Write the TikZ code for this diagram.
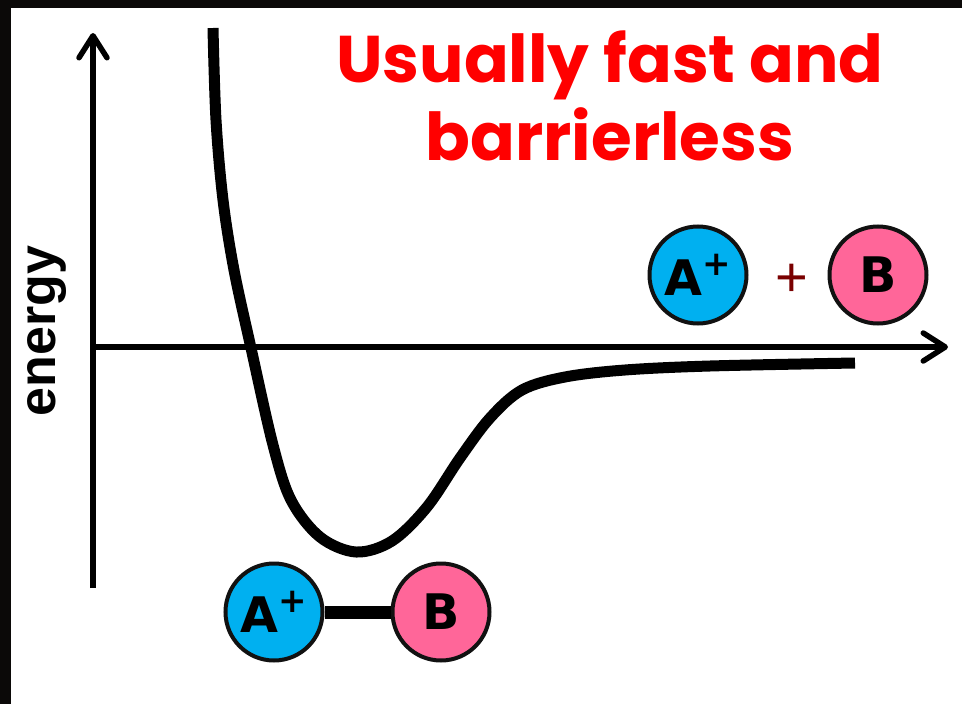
\documentclass[tikz,border=0pt]{standalone}
\usepackage{fontspec}
\setmainfont{Liberation Sans}
\newfontfamily\titlefont{Poppins}
\newfontfamily\atomfont{DejaVu Sans}
\usetikzlibrary{arrows.meta}
\definecolor{atomblue}{HTML}{00B0F0}
\definecolor{atompink}{HTML}{FF6699}
\definecolor{plusred}{HTML}{7A0000}
\definecolor{rimgray}{HTML}{111111}
\definecolor{titlered}{HTML}{FF0000}
\definecolor{spacebg}{HTML}{0B0908}
\newcommand{\atomplus}{\raisebox{0.40em}{\fontsize{34}{34}\selectfont +}}
\tikzset{
  axisline/.style={line width=5.5pt,-{Straight Barb[length=22pt,width=28pt,round]}},
  curveline/.style={line width=11pt,line join=round},
  atom/.style={circle,draw=rimgray,line width=4pt,minimum size=97pt,inner sep=0pt,
     font=\atomfont\bfseries\fontsize{49}{52}\selectfont},
  bond/.style={line width=13pt},
  titletext/.style={text=titlered,font=\titlefont\bfseries\fontsize{66}{70}\selectfont,inner sep=0pt}
}
\begin{document}
\begin{tikzpicture}[x=1pt,y=-1pt]
\useasboundingbox (0,0) rectangle (962,704);
\fill[spacebg] (0,0) rectangle (962,704);
\fill[white] (11,8) rectangle (962,704);
% axes
\coordinate (yb) at (93,588);
\coordinate (yt) at (93,33);
\coordinate (xl) at (93,347);
\coordinate (xr) at (948,347);
\draw[axisline] (yb) -- (yt);
\draw[axisline] (xl) -- (xr);
\node[rotate=90,anchor=base,inner sep=0pt,font=\fontsize{52}{56}\selectfont\bfseries] (lab) at (56,331) {energy};
% potential curve
\draw[curveline] plot[smooth,tension=0.55] coordinates {
 (213,28) (216,120) (223,200) (234,270) (251,348) (273,445) (291,500)
 (320,537) (356,552) (392,541) (427,507) (460,458) (490,418) (522,390)
 (565,377) (625,370) (710,366) (855,363)};
% title
\node[titletext,anchor=base] (t1) at (610,82) {Usually fast and};
\node[titletext,anchor=base] (t2) at (610,160) {barrierless};
% separated atoms
\node[atom,fill=atomblue] (a1) at (698,275) {A\atomplus};
\node[atom,fill=atompink] (b1) at (878,275) {B};
\node[text=plusred,font=\fontsize{56}{60}\selectfont,inner sep=0pt] (pl) at (792,280) {+};
% bound atoms
\node[atom,fill=atomblue] (a2) at (274,612) {A\atomplus};
\node[atom,fill=atompink] (b2) at (441,612) {B};
\draw[bond] (a2) -- (b2);
\end{tikzpicture}
\end{document}
